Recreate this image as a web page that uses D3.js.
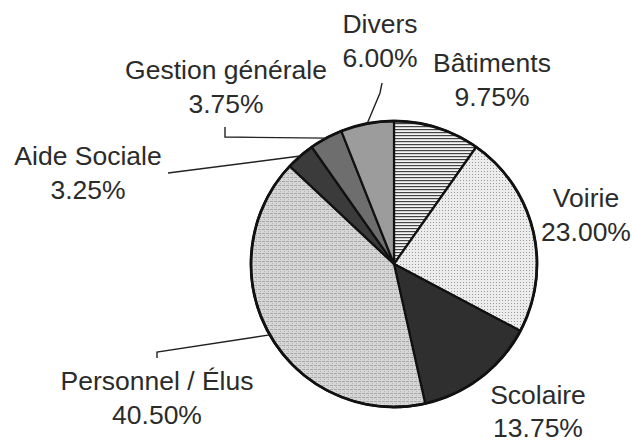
<!DOCTYPE html>
<html>
<head>
<meta charset="utf-8">
<script src="https://cdn.jsdelivr.net/npm/d3@7"></script>
<style>
  body { margin: 0; background: #fff; }
  text { font-family: "Liberation Sans", Arial, sans-serif; fill: #2b2b2b; }
</style>
</head>
<body>
<script>
// budget shares, clockwise from 12 o'clock
const categories = ["Bâtiments", "Voirie", "Scolaire", "Personnel / Élus", "Aide Sociale", "Gestion générale", "Divers"]
const shares = [9.75, 23.00, 13.75, 40.50, 3.25, 3.75, 6.00]
const shareLabels = ["9.75%", "23.00%", "13.75%", "40.50%", "3.25%", "3.75%", "6.00%"]

const w = 633
const h = 442
const cx = 394, cy = 264, r = 143

const fills = {
    "Bâtiments": "url(#stripes)",
    "Voirie": "url(#dots)",
    "Scolaire": "#2f2f2f",
    "Personnel / Élus": "url(#grain)",
    "Aide Sociale": "#3b3b3b",
    "Gestion générale": "#6e6e6e",
    "Divers": "#9c9c9c"
}

// label placement: centre x, baseline of first line, optional leader points (label side)
const labelPos = {
    "Divers": {x: 380, y: 33, leader: [[382, 83], [380, 93]]},
    "Bâtiments": {x: 492, y: 72},
    "Voirie": {x: 586, y: 207},
    "Scolaire": {x: 538, y: 404},
    "Personnel / Élus": {x: 157, y: 390, leader: [[157, 358], [157, 352]]},
    "Aide Sociale": {x: 88, y: 165, leader: [[168, 173]]},
    "Gestion générale": {x: 226, y: 79, leader: [[225, 127], [225, 137]]}
}

let svg = d3.select("body")
            .append("svg")
            .attr("width", w)
            .attr("height", h)

let defs = svg.append("defs")

let stripes = defs.append("pattern")
    .attr("id", "stripes")
    .attr("patternUnits", "userSpaceOnUse")
    .attr("width", 6).attr("height", 3)
stripes.append("rect").attr("width", 6).attr("height", 3).attr("fill", "#f4f4f4")
stripes.append("rect").attr("y", 0).attr("width", 6).attr("height", 1.2).attr("fill", "#444")

let dots = defs.append("pattern")
    .attr("id", "dots")
    .attr("patternUnits", "userSpaceOnUse")
    .attr("width", 3).attr("height", 3)
dots.append("rect").attr("width", 3).attr("height", 3).attr("fill", "#ececec")
dots.append("rect").attr("width", 1).attr("height", 1).attr("fill", "#9a9a9a")

let grain = defs.append("pattern")
    .attr("id", "grain")
    .attr("patternUnits", "userSpaceOnUse")
    .attr("width", 4).attr("height", 4)
grain.append("rect").attr("width", 4).attr("height", 4).attr("fill", "#d6d6d6")
grain.append("rect").attr("x", 0).attr("y", 1).attr("width", 3).attr("height", 1).attr("fill", "#a8a8a8")
grain.append("rect").attr("x", 2).attr("y", 3).attr("width", 1).attr("height", 1).attr("fill", "#b5b5b5")

const data = categories.map(function(c, i) {
    return {name: c, value: shares[i], label: shareLabels[i]}
})

let pie = d3.pie()
    .sort(null)
    .value(function(d) { return d.value })

let arc = d3.arc().innerRadius(0).outerRadius(r)

let arcs = pie(data)

let g = svg.append("g").attr("transform", "translate(" + cx + "," + cy + ")")

g.selectAll("path")
    .data(arcs)
    .enter()
    .append("path")
    .attr("d", arc)
    .attr("fill", function(d) { return fills[d.data.name] })
    .attr("stroke", "#111")
    .attr("stroke-width", 2.2)
    .attr("stroke-linejoin", "round")

g.append("circle")
    .attr("r", r)
    .attr("fill", "none")
    .attr("stroke", "#111")
    .attr("stroke-width", 2.8)

// leader lines to the edge, at each slice's mid angle
let withLeader = arcs.filter(function(d) { return labelPos[d.data.name].leader })

svg.selectAll("polyline.leader")
    .data(withLeader)
    .enter()
    .append("polyline")
    .attr("class", "leader")
    .attr("fill", "none")
    .attr("stroke", "#222")
    .attr("stroke-width", 1.4)
    .attr("points", function(d) {
        let a = (d.startAngle + d.endAngle) / 2
        let edge = [cx + r * Math.sin(a), cy - r * Math.cos(a)]
        return labelPos[d.data.name].leader.concat([edge]).join(" ")
    })

let labels = svg.selectAll("g.label")
    .data(arcs)
    .enter()
    .append("g")
    .attr("class", "label")
    .attr("transform", function(d) {
        let p = labelPos[d.data.name]
        return "translate(" + p.x + "," + p.y + ") scale(1.06,1)"
    })

labels.append("text")
    .attr("text-anchor", "middle")
    .attr("font-size", "25px")
    .text(function(d) { return d.data.name })

labels.append("text")
    .attr("text-anchor", "middle")
    .attr("font-size", "25px")
    .attr("y", function(d) { return d.data.name === "Scolaire" ? 33 : 34 })
    .text(function(d) { return d.data.label })
</script>
</body>
</html>
